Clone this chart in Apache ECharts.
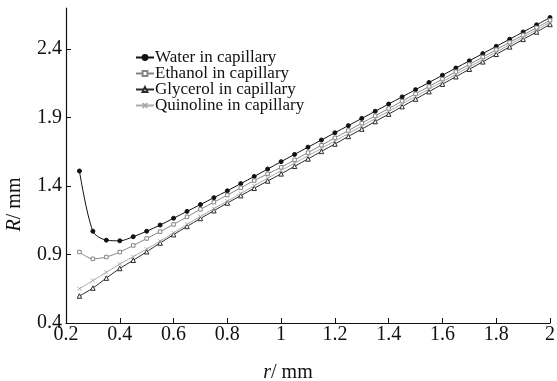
<!DOCTYPE html>
<html>
<head>
<meta charset="utf-8">
<script src="https://cdn.jsdelivr.net/npm/echarts@6/dist/echarts.min.js"></script>
<style>
  html, body { margin: 0; padding: 0; background: #fff; }
  #chart { width: 557px; height: 381px; }
</style>
</head>
<body>
<div id="chart"></div>
<script>
// r / mm
var rValues = [0.25, 0.30, 0.35, 0.40, 0.45, 0.50, 0.55, 0.60, 0.65, 0.70, 0.75, 0.80,
  0.85, 0.90, 0.95, 1.00, 1.05, 1.10, 1.15, 1.20, 1.25, 1.30, 1.35, 1.40,
  1.45, 1.50, 1.55, 1.60, 1.65, 1.70, 1.75, 1.80, 1.85, 1.90, 1.95, 2.00];

// R / mm
var water = [1.51, 1.07, 1.005, 1.0, 1.03, 1.07, 1.115, 1.165, 1.215, 1.265, 1.315, 1.365,
  1.418, 1.47, 1.524, 1.578, 1.631, 1.684, 1.736, 1.789, 1.841, 1.894, 1.946, 1.999,
  2.051, 2.104, 2.156, 2.209, 2.262, 2.314, 2.367, 2.42, 2.472, 2.525, 2.577, 2.63];
var ethanol = [0.918, 0.868, 0.882, 0.918, 0.966, 1.017, 1.067, 1.12, 1.175, 1.23, 1.282, 1.334,
  1.387, 1.44, 1.489, 1.537, 1.591, 1.644, 1.698, 1.752, 1.805, 1.859, 1.913, 1.966,
  2.02, 2.074, 2.127, 2.181, 2.235, 2.288, 2.342, 2.396, 2.449, 2.503, 2.556, 2.61];
var glycerol = [0.597, 0.655, 0.728, 0.798, 0.858, 0.92, 0.984, 1.045, 1.105, 1.163, 1.22, 1.276,
  1.33, 1.384, 1.437, 1.489, 1.544, 1.598, 1.653, 1.707, 1.762, 1.816, 1.871, 1.925,
  1.98, 2.035, 2.089, 2.144, 2.198, 2.253, 2.307, 2.362, 2.416, 2.471, 2.525, 2.58];
var quinoline = [0.65, 0.71, 0.77, 0.83, 0.884, 0.94, 0.997, 1.058, 1.12, 1.178, 1.235, 1.29,
  1.346, 1.402, 1.458, 1.513, 1.567, 1.621, 1.675, 1.729, 1.783, 1.838, 1.892, 1.946,
  2.0, 2.054, 2.108, 2.162, 2.216, 2.27, 2.324, 2.379, 2.433, 2.487, 2.541, 2.595];

var seriesNames = ['Water in capillary', 'Ethanol in capillary', 'Glycerol in capillary', 'Quinoline in capillary'];

function pairs(ys) {
  var out = [];
  for (var i = 0; i < rValues.length; i++) out.push([rValues[i], ys[i]]);
  return out;
}

var serif = 'Liberation Serif';
var chart = echarts.init(document.getElementById('chart'));

function mkSeries(name, ys, color, symbol, size, fill) {
  return {
    name: name,
    type: 'line',
    data: pairs(ys),
    smooth: 0.3,
    symbol: symbol,
    symbolSize: size,
    showSymbol: true,
    lineStyle: { color: color, width: 1 },
    itemStyle: { color: fill, borderColor: color, borderWidth: 1 },
    emphasis: { disabled: true },
    animation: false
  };
}

var nameStyle = {
  fontFamily: serif, fontSize: 20, color: '#111',
  rich: { i: { fontFamily: serif, fontStyle: 'italic', fontSize: 20, color: '#111' } }
};

var option = {
  backgroundColor: '#fff',
  grid: { left: 66, right: 7, top: 8, bottom: 58, outerBoundsMode: 'none', containLabel: false },
  legend: {
    left: 130, top: 44, orient: 'vertical',
    itemWidth: 18, itemHeight: 6, itemGap: -1,
    textStyle: { fontFamily: serif, fontSize: 17, color: '#111', padding: [0, 0, 0, -4] },
    data: seriesNames
  },
  xAxis: {
    type: 'value', min: 0.2, max: 2, interval: 0.2,
    name: '{i|r}/ mm', nameLocation: 'middle', nameGap: 40,
    nameTextStyle: Object.assign({ padding: [0, 40, 0, 0] }, nameStyle),
    axisLine: { lineStyle: { color: '#111', width: 1.2 } },
    axisTick: { inside: true, length: 5, lineStyle: { color: '#111' } },
    axisLabel: { fontFamily: serif, fontSize: 20, color: '#111', margin: 2,
      formatter: function (v) { return String(Math.round(v * 10) / 10); } },
    splitLine: { show: false }
  },
  yAxis: {
    type: 'value', min: 0.4, max: 2.7, interval: 0.5,
    name: '{i|R}/ mm', nameLocation: 'middle', nameGap: 41, nameRotate: 90,
    nameTextStyle: Object.assign({ padding: [0, 78, 0, 0] }, nameStyle),
    axisLine: { show: true, lineStyle: { color: '#111', width: 1.2 } },
    axisTick: { show: true, inside: true, length: 5, lineStyle: { color: '#111' } },
    axisLabel: { fontFamily: serif, fontSize: 20, color: '#111', margin: 4, showMaxLabel: false,
      formatter: function (v) { return v.toFixed(1); } },
    splitLine: { show: false }
  },
  series: [
    mkSeries(seriesNames[0], water, '#111111', 'circle', 4, '#111111'),
    mkSeries(seriesNames[1], ethanol, '#858585', 'rect', 3.5, '#ffffff'),
    mkSeries(seriesNames[2], glycerol, '#2a2a2a', 'triangle', 4.5, '#ffffff'),
    mkSeries(seriesNames[3], quinoline, '#ababab', 'path://M0,0L10,10M10,0L0,10', 4, '#ababab')
  ]
};
chart.setOption(option);
</script>
</body>
</html>
